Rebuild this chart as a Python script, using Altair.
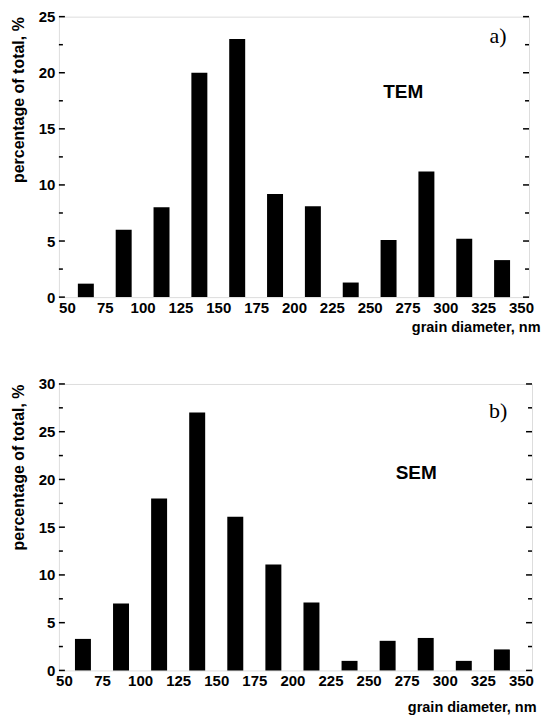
import altair as alt
import pandas as pd

# ---- data ----
diameter = [62.5, 87.5, 112.5, 137.5, 162.5, 187.5, 212.5, 237.5, 262.5, 287.5, 312.5, 337.5]
tem_pct = [1.2, 6.0, 8.0, 20.0, 23.0, 9.2, 8.1, 1.3, 5.1, 11.2, 5.2, 3.3]
sem_pct = [3.3, 7.0, 18.0, 27.0, 16.1, 11.1, 7.1, 1.0, 3.1, 3.4, 1.0, 2.2]

x_ticks = [50, 75, 100, 125, 150, 175, 200, 225, 250, 275, 300, 325, 350]
tem_major = [0, 5, 10, 15, 20, 25]
tem_minor = [2.5, 7.5, 12.5, 17.5, 22.5]
sem_major = [0, 5, 10, 15, 20, 25, 30]
sem_minor = [2.5, 7.5, 12.5, 17.5, 22.5, 27.5]

FONT = "Liberation Sans"
SERIF = "Liberation Serif"


def panel(values, ymax, major, minor, x_domain, w, h, tag, method,
          title_x, title_y, title_pad, tag_xy, method_xy):
    bars_df = pd.DataFrame({"d": diameter, "p": values})
    xenc = alt.X(
        "d:Q",
        scale=alt.Scale(domain=x_domain, nice=False, zero=False),
        axis=alt.Axis(values=x_ticks, title="grain diameter, nm", ticks=False,
                      grid=False, domain=False, labelPadding=3, labelFontSize=15,
                      labelFont=FONT, labelFontWeight="bold", labelColor="black",
                      labelFlush=False,
                      titleFont=FONT, titleFontSize=14.5, titleFontWeight="bold",
                      titleColor="black", titleAlign="right", titleBaseline="alphabetic",
                      titleX=title_x, titleY=title_y),
    )
    yenc = alt.Y(
        "p:Q",
        scale=alt.Scale(domain=[0, ymax], nice=False),
        axis=alt.Axis(values=major, title="percentage of total, %", ticks=False,
                      grid=False, domain=False, labelPadding=4, labelFontSize=15,
                      labelFont=FONT, labelFontWeight="bold", labelColor="black",
                      titleFont=FONT, titleFontSize=16, titleFontWeight="bold",
                      titleColor="black", titleAnchor="end", titlePadding=title_pad),
    )
    bars = alt.Chart(bars_df).mark_bar(color="black", size=16).encode(x=xenc, y=yenc)

    maj_df = pd.DataFrame({"p": major})
    min_df = pd.DataFrame({"p": minor})
    ysh = alt.Y("p:Q")
    rules = []
    for df, ln in ((maj_df, 6), (min_df, 4)):
        rules.append(alt.Chart(df).mark_rule(color="black", strokeWidth=1.5).encode(
            y=ysh, x=alt.value(0), x2=alt.value(ln)))
        rules.append(alt.Chart(df).mark_rule(color="black", strokeWidth=1.5).encode(
            y=ysh, x=alt.value(w), x2=alt.value(w - ln)))

    tag_t = alt.Chart(pd.DataFrame({"t": [tag]})).mark_text(
        font=SERIF, fontSize=22, color="black", align="center", baseline="alphabetic"
    ).encode(text="t:N", x=alt.value(tag_xy[0]), y=alt.value(tag_xy[1]))
    meth_t = alt.Chart(pd.DataFrame({"t": [method]})).mark_text(
        font=FONT, fontSize=19, fontWeight="bold", color="black", align="center",
        baseline="alphabetic"
    ).encode(text="t:N", x=alt.value(method_xy[0]), y=alt.value(method_xy[1]))

    return alt.layer(bars, *rules, tag_t, meth_t).properties(width=w, height=h)


top = panel(tem_pct, 25, tem_major, tem_minor, [48, 352], 471, 281, "a)", "TEM",
            482, 34, 12, (440, 26), (345, 82))
bottom = panel(sem_pct, 30, sem_major, sem_minor, [50, 354], 474, 287, "b)", "SEM",
               478, 41, 12, (440, 34), (358, 95))

chart = alt.vconcat(top, bottom, spacing=42).properties(
    padding={"left": 1, "top": 0, "right": 0, "bottom": 0}
).configure_view(stroke="black", strokeWidth=2).configure(background="white")

chart.save("out.html", embed_options={"renderer": "svg", "actions": False})
